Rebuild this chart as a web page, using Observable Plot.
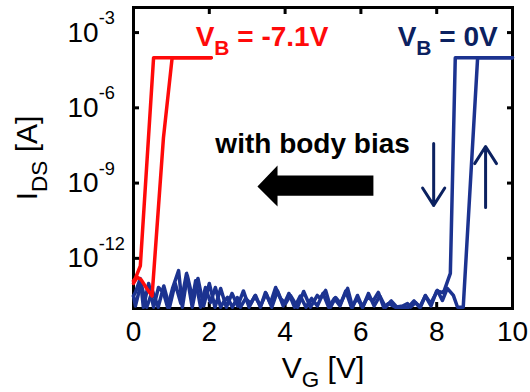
<!DOCTYPE html>
<html><head><meta charset="utf-8">
<script src="https://cdn.jsdelivr.net/npm/d3@7"></script>
<script src="https://cdn.jsdelivr.net/npm/@observablehq/plot@0.6"></script>
<style>body{margin:0;background:#fff}</style>
</head><body><div id="chart"></div>
<script>
// ---- data (gate voltage V, log10 of drain current A) ----
const xTicks = [0, 2, 4, 6, 8, 10];
const yTicks = [1e-3, 1e-6, 1e-9, 1e-12];

// V_B = -7.1 V (red)
const redUpV   = [0, 0.1, 0.2, 0.35, 0.49, 0.79, 1.02, 2.05];
const redUpLog = [-13.0, -12.75, -12.85, -13.2, -13.5, -7.2, -4.0, -4.0];
const redDnV   = [2.05, 0.53, 0.18, 0.05, 0];
const redDnLog = [-4.0, -4.0, -12.3, -12.8, -12.9];

// V_B = 0 V (blue), up sweep
const blueUpV = [0.00,0.05,0.18,0.26,0.40,0.53,0.66,0.79,0.90,1.03,1.19,1.29,1.42,1.56,1.64,1.77,1.90,2.03,2.16,2.30,2.37,2.48,2.61,2.74,2.82,2.96,3.09,3.22,3.35,3.48,3.61,3.75,3.88,4.01,4.14,4.33,4.49,4.67,4.85,4.93,5.07,5.20,5.33,5.46,5.65,5.78,5.91,6.04,6.17,6.33,6.46,6.60,6.73,6.91,7.10,7.23,7.31,7.44,7.57,7.70,7.84,8.02,8.15,8.28,8.44,8.55,8.70,9.08,10.0];
const blueUpLog = [-13.5,-13.36,-12.81,-13.95,-13.0,-13.95,-13.16,-13.36,-13.95,-13.2,-12.49,-13.95,-12.69,-13.6,-12.89,-13.95,-13.16,-13.76,-13.16,-13.95,-13.76,-13.56,-13.95,-13.56,-13.95,-13.6,-13.8,-13.48,-13.95,-13.36,-13.8,-13.16,-13.6,-13.8,-13.48,-13.95,-13.32,-13.95,-13.48,-13.6,-13.28,-13.95,-13.56,-13.8,-13.2,-13.95,-13.48,-13.95,-13.56,-13.68,-13.36,-13.95,-13.8,-13.95,-13.9,-13.8,-13.95,-13.76,-13.95,-13.48,-13.8,-13.28,-13.68,-13.2,-13.48,-13.95,-13.95,-4.0,-4.0];

// V_B = 0 V (blue), down sweep
const blueDnV = [10.0,8.49,8.36,8.18,8.0,7.85,7.7,7.55,7.4,7.25,7.1,6.95,6.8,6.65,6.5,6.35,6.2,6.05,5.9,5.75,5.6,5.45,5.3,5.15,5.0,4.85,4.7,4.55,4.4,4.25,4.1,3.95,3.8,3.65,3.5,3.35,3.2,3.05,2.9,2.75,2.6,2.45,2.3,2.15,2.0,1.85,1.7,1.55,1.4,1.25,1.1,0.95,0.8,0.65,0.5,0.35,0.2,0.05,0];
const blueDnLog = [-4.0,-4.0,-12.6,-13.37,-13.3,-13.9,-13.5,-13.95,-13.7,-13.95,-13.95,-13.95,-13.7,-13.95,-13.5,-13.9,-13.4,-13.95,-13.6,-13.95,-13.3,-13.9,-13.6,-13.95,-13.4,-13.9,-13.6,-13.95,-13.5,-13.95,-13.4,-13.9,-13.3,-13.95,-13.4,-13.9,-13.5,-13.95,-13.3,-13.9,-13.4,-13.95,-13.2,-13.95,-13.0,-13.9,-12.8,-13.95,-12.6,-13.8,-13.0,-13.95,-13.1,-13.95,-13.3,-13.95,-13.0,-13.9,-13.5];

// annotations
const labelTexts = ["V_{B} = -7.1V", "V_{B} = 0V", "with body bias"];
const labelV     = [1.64, 6.97, 2.16];
const labelLog   = [-3.16, -3.16, -7.44];
const bigArrowV   = [3.27, 3.80, 3.80, 6.33, 6.33, 3.80, 3.80, 3.27];
const bigArrowLog = [-9.14, -8.30, -8.70, -8.70, -9.50, -9.50, -9.93, -9.14];
const sweepArrowV  = [7.92, 9.29];
const sweepArrowFrom = [-7.42, -9.97];
const sweepArrowTo   = [-9.89, -7.54];

const RED = "#ff0a0a", BLUE = "#1c3390", NAVY = "#0b2160";

const rows = (vs, logs) => vs.map((v, i) => ({V: v, I: 10 ** logs[i]}));
const labels = labelTexts.map((t, i) => ({t, V: labelV[i], I: 10 ** labelLog[i], c: [RED, NAVY, "#000"][i]}));
const arrows = sweepArrowV.map((v, i) => ({V: v, I1: 10 ** sweepArrowFrom[i], I2: 10 ** sweepArrowTo[i]}));

const plot = Plot.plot({
  width: 530, height: 392,
  marginLeft: 133, marginRight: 18, marginTop: 7, marginBottom: 84,
  style: {fontFamily: "'Liberation Sans', Arial, sans-serif", background: "#fff", color: "#000"},
  x: {domain: [0, 10]},
  y: {type: "log", domain: [1e-14, 1e-2]},
  marks: [
    Plot.frame({stroke: "#000", strokeWidth: 3}),
    Plot.axisX(xTicks, {anchor: "bottom", tickSize: -6, tickPadding: 19, strokeWidth: 3, fontSize: 28,
      label: "V_{G} [V]", labelAnchor: "center", labelOffset: 69, labelArrow: "none"}),
    Plot.axisX(xTicks, {anchor: "top", tickSize: -6, strokeWidth: 3, tickFormat: () => "", label: null}),
    Plot.axisY(yTicks, {anchor: "left", tickSize: -6, tickPadding: 72, strokeWidth: 3, fontSize: 28, textAnchor: "start",
      tickFormat: d => `10^{${Math.round(Math.log10(d))}}`,
      label: "I_{DS} [A]", labelAnchor: "center", labelOffset: 118, labelArrow: "none"}),
    Plot.axisY(yTicks, {anchor: "right", tickSize: -6, strokeWidth: 3, tickFormat: () => "", label: null}),
    Plot.line(rows(blueDnV, blueDnLog), {x: "V", y: "I", stroke: BLUE, strokeWidth: 3.5, strokeLinejoin: "round"}),
    Plot.line(rows(blueUpV, blueUpLog), {x: "V", y: "I", stroke: BLUE, strokeWidth: 3.5, strokeLinejoin: "round"}),
    Plot.line(rows(redUpV, redUpLog), {x: "V", y: "I", stroke: RED, strokeWidth: 3.5, strokeLinejoin: "round"}),
    Plot.line(rows(redDnV, redDnLog), {x: "V", y: "I", stroke: RED, strokeWidth: 3.5, strokeLinejoin: "round"}),
    Plot.line(rows(bigArrowV, bigArrowLog), {x: "V", y: "I", fill: "#000", stroke: "none"}),
    Plot.arrow(arrows, {x: "V", y1: "I1", y2: "I2", stroke: NAVY, strokeWidth: 3, headLength: 14, headAngle: 65}),
    Plot.text(labels, {x: "V", y: "I", text: "t", fill: "c", fontSize: 28, fontWeight: "bold", textAnchor: "start"})
  ]
});

document.getElementById("chart").appendChild(plot);

plot.querySelectorAll('[aria-label="x-axis label"], [aria-label="y-axis label"]').forEach(g => g.setAttribute("font-size", 30));

function richify(root) {
  root.querySelectorAll("text, tspan").forEach(el => {
    if (el.children.length) return;
    const s = el.textContent;
    if (!/[_^]\{/.test(s)) return;
    const fs = parseFloat(getComputedStyle(el).fontSize);
    const parts = s.split(/([_^]\{[^}]*\})/).filter(p => p !== "");
    el.textContent = "";
    let offset = 0;
    for (const p of parts) {
      const m = p.match(/^([_^])\{([^}]*)\}$/);
      const ts = document.createElementNS("http://www.w3.org/2000/svg", "tspan");
      if (m) {
        const sup = m[1] === "^";
        const shift = sup ? -0.62 * fs : 0.33 * fs;
        ts.setAttribute("dy", shift - offset);
        offset = shift;
        ts.setAttribute("font-size", (sup ? 0.65 : 0.75) * fs);
        ts.textContent = m[2];
      } else {
        if (offset) ts.setAttribute("dy", -offset);
        offset = 0;
        ts.textContent = p;
      }
      el.appendChild(ts);
    }
  });
}
richify(plot);
</script>
</body></html>
